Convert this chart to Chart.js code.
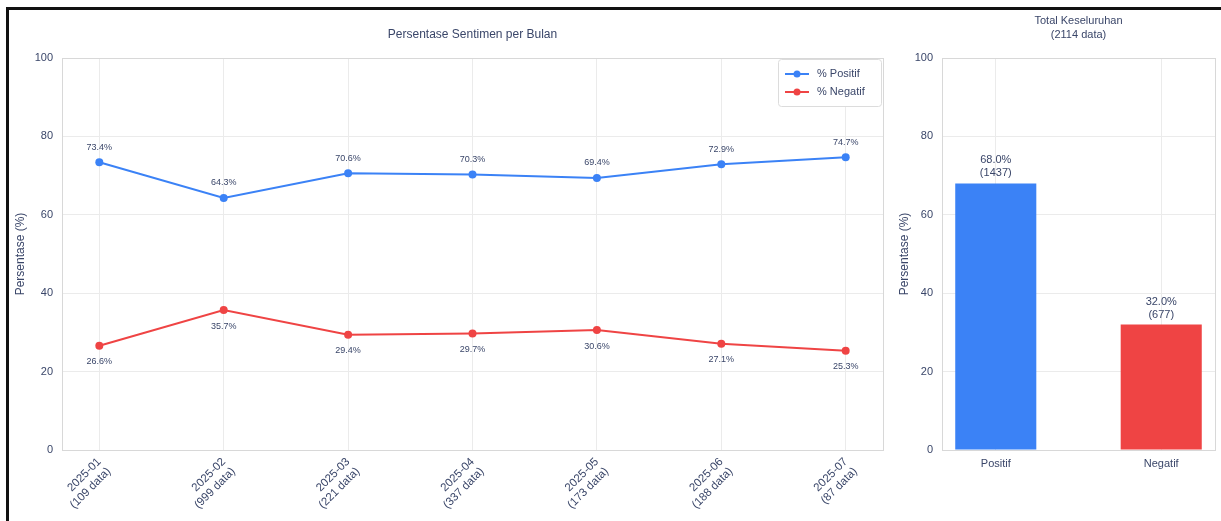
<!DOCTYPE html>
<html>
<head>
<meta charset="utf-8">
<script src="https://cdn.jsdelivr.net/npm/chart.js@4.4.1/dist/chart.umd.min.js"></script>
<style>
  html, body { margin: 0; padding: 0; background: #fff; }
  body { width: 1221px; height: 521px; position: relative; overflow: hidden; }
  #bingkai { position: absolute; left: 6px; top: 7px; width: 1400px; height: 700px;
             border-left: 3px solid #111; border-top: 3px solid #111; }
  #Bulanan { position: absolute; left: 0; top: 0; }
  #Total { position: absolute; left: 890px; top: 0; }
</style>
</head>
<body>
<div id="bingkai"></div>
<canvas id="Bulanan" width="910" height="521"></canvas>
<canvas id="Total" width="331" height="521"></canvas>
<script>
// data per bulan
const bulan = ['2025-01', '2025-02', '2025-03', '2025-04', '2025-05', '2025-06', '2025-07'];
const jumlahData = [109, 999, 221, 337, 173, 188, 87];
const persenPositif = [73.4, 64.3, 70.6, 70.3, 69.4, 72.9, 74.7];
const persenNegatif = [26.6, 35.7, 29.4, 29.7, 30.6, 27.1, 25.3];
// total keseluruhan
const kategori = ['Positif', 'Negatif'];
const persenTotal = [68.0, 32.0];
const jumlahTotal = [1437, 677];
const yTicks = [0, 20, 40, 60, 80, 100];

const BIRU = '#3b82f6';
const MERAH = '#ef4444';
const TEKS = '#3a4669';
const GRID = '#ebebeb';

Chart.defaults.font.family = "'Liberation Sans', Arial, sans-serif";
Chart.defaults.color = TEKS;

// kotak plot + judul di tengah area plot
const plotBox = {
  id: 'plotBox',
  beforeDatasetsDraw(chart) {
    const ca = chart.chartArea, ctx = chart.ctx;
    ctx.save();
    ctx.strokeStyle = '#d8d8d8';
    ctx.lineWidth = 1;
    ctx.strokeRect(Math.round(ca.left) + 0.5, Math.round(ca.top) + 0.5,
                   Math.round(ca.width), Math.round(ca.height));
    ctx.restore();
  },
  afterDraw(chart, args, opts) {
    const ca = chart.chartArea, ctx = chart.ctx;
    ctx.save();
    ctx.fillStyle = TEKS;
    ctx.textAlign = 'center';
    ctx.textBaseline = 'middle';
    ctx.font = opts.size + "px 'Liberation Sans', Arial, sans-serif";
    opts.lines.forEach((t, i) => {
      ctx.fillText(t, (ca.left + ca.right) / 2, opts.y + i * opts.gap);
    });
    ctx.restore();
  }
};

function yAxis(width) {
  return {
    type: 'linear',
    min: 0, max: 100,
    afterBuildTicks: s => { s.ticks = yTicks.map(v => ({ value: v })); },
    afterFit: s => { s.width = width; },
    grid: { color: GRID, drawTicks: false },
    border: { display: false },
    ticks: { padding: 9, font: { size: 11 }, color: TEKS },
    title: { display: true, text: 'Persentase (%)', font: { size: 12 }, color: TEKS, padding: { top: 5 } }
  };
}

// label persen di titik garis + legenda
const labelGaris = {
  id: 'labelGaris',
  afterDatasetsDraw(chart) {
    const ctx = chart.ctx;
    ctx.save();
    ctx.font = "9px 'Liberation Sans', Arial, sans-serif";
    ctx.fillStyle = TEKS;
    ctx.textAlign = 'center';
    ctx.textBaseline = 'middle';
    chart.data.datasets.forEach((ds, di) => {
      const meta = chart.getDatasetMeta(di);
      meta.data.forEach((pt, i) => {
        const dy = di === 0 ? -15 : 16;
        ctx.fillText(ds.data[i].y.toFixed(1) + '%', pt.x, pt.y + dy);
      });
    });
    // legenda
    const ca = chart.chartArea;
    const bx = ca.right - 105, by = ca.top + 1, bw = 103, bh = 47;
    ctx.fillStyle = '#fff';
    ctx.strokeStyle = '#dcdcdc';
    ctx.lineWidth = 1;
    ctx.beginPath();
    ctx.roundRect(bx + 0.5, by + 0.5, bw, bh, 3);
    ctx.fill();
    ctx.stroke();
    ctx.font = "11px 'Liberation Sans', Arial, sans-serif";
    ctx.textAlign = 'left';
    chart.data.datasets.forEach((ds, di) => {
      const yy = by + 15 + di * 18;
      ctx.strokeStyle = ds.borderColor;
      ctx.lineWidth = 2;
      ctx.beginPath();
      ctx.moveTo(bx + 7, yy);
      ctx.lineTo(bx + 31, yy);
      ctx.stroke();
      ctx.fillStyle = ds.borderColor;
      ctx.beginPath();
      ctx.arc(bx + 19, yy, 3.5, 0, Math.PI * 2);
      ctx.fill();
      ctx.fillStyle = TEKS;
      ctx.fillText(ds.label, bx + 39, yy);
    });
    ctx.restore();
  }
};

new Chart(document.getElementById('Bulanan').getContext('2d'), {
  type: 'line',
  data: {
    datasets: [{
      label: '% Positif',
      data: persenPositif.map((v, i) => ({ x: i, y: v })),
      borderColor: BIRU, backgroundColor: BIRU,
      borderWidth: 2, pointRadius: 4, pointBorderWidth: 0
    }, {
      label: '% Negatif',
      data: persenNegatif.map((v, i) => ({ x: i, y: v })),
      borderColor: MERAH, backgroundColor: MERAH,
      borderWidth: 2, pointRadius: 4, pointBorderWidth: 0
    }]
  },
  options: {
    responsive: false,
    animation: false,
    events: [],
    layout: { padding: { left: 8, right: 27, top: 58, bottom: 0 } },
    scales: {
      x: {
        type: 'linear',
        min: -0.3, max: 6.3,
        afterBuildTicks: s => { s.ticks = bulan.map((b, i) => ({ value: i })); },
        afterFit: s => { s.height = 71; },
        grid: { color: GRID, drawTicks: false },
        border: { display: false },
        ticks: {
          autoSkip: false, maxRotation: 45, minRotation: 45, padding: 5,
          font: { size: 11.5 }, color: TEKS,
          callback: v => [bulan[v], '(' + jumlahData[v] + ' data)']
        }
      },
      y: yAxis(54)
    },
    plugins: {
      legend: { display: false },
      tooltip: { enabled: false },
      plotBox: { lines: ['Persentase Sentimen per Bulan'], y: 35, gap: 0, size: 12 }
    }
  },
  plugins: [plotBox, labelGaris]
});

// label di atas batang
const labelBatang = {
  id: 'labelBatang',
  afterDatasetsDraw(chart) {
    const ctx = chart.ctx;
    const meta = chart.getDatasetMeta(0);
    ctx.save();
    ctx.font = "11px 'Liberation Sans', Arial, sans-serif";
    ctx.fillStyle = TEKS;
    ctx.textAlign = 'center';
    ctx.textBaseline = 'alphabetic';
    meta.data.forEach((bar, i) => {
      ctx.fillText(persenTotal[i].toFixed(1) + '%', bar.x, bar.y - 20);
      ctx.fillText('(' + jumlahTotal[i] + ')', bar.x, bar.y - 7);
    });
    ctx.restore();
  }
};

const totalData = jumlahTotal.reduce((a, b) => a + b, 0);

new Chart(document.getElementById('Total').getContext('2d'), {
  type: 'bar',
  data: {
    datasets: [{
      label: 'Total',
      data: persenTotal.map((v, i) => ({ x: i, y: v })),
      backgroundColor: [BIRU, MERAH],
      borderWidth: 0,
      categoryPercentage: 1,
      barPercentage: 0.49
    }]
  },
  options: {
    responsive: false,
    animation: false,
    events: [],
    layout: { padding: { left: 2, right: 6, top: 58, bottom: 0 } },
    scales: {
      x: {
        type: 'linear',
        offset: false,
        min: -0.325, max: 1.325,
        afterBuildTicks: s => { s.ticks = kategori.map((k, i) => ({ value: i })); },
        afterFit: s => { s.height = 71; },
        grid: { color: GRID, drawTicks: false, offset: false },
        border: { display: false },
        ticks: {
          maxRotation: 0, minRotation: 0, padding: 7,
          font: { size: 11 }, color: TEKS,
          callback: v => kategori[v]
        }
      },
      y: yAxis(50)
    },
    plugins: {
      legend: { display: false },
      tooltip: { enabled: false },
      plotBox: { lines: ['Total Keseluruhan', '(' + totalData + ' data)'], y: 21, gap: 14, size: 11 }
    }
  },
  plugins: [plotBox, labelBatang]
});
</script>
</body>
</html>
